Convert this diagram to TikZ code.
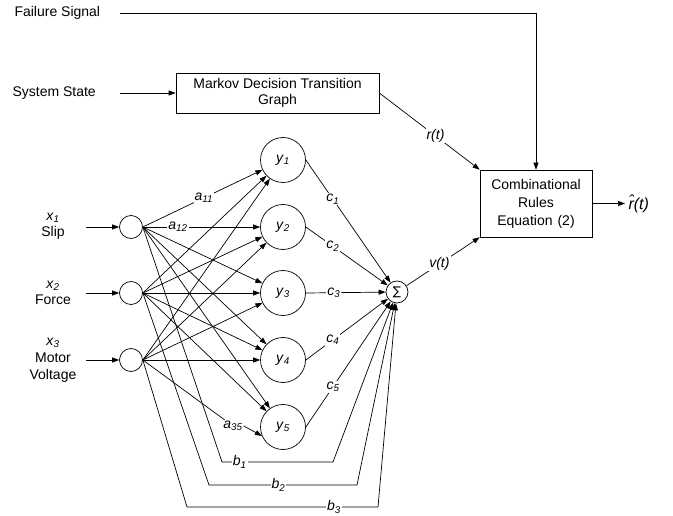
\documentclass[tikz,border=0pt]{standalone}
\usepackage{fontspec}
\setmainfont{Liberation Sans}
\newfontfamily\symfont{DejaVu Sans}
\usetikzlibrary{arrows.meta}
% italic variable with italic subscript
\newcommand\iv[2]{\textit{#1}\textsubscript{\textit{#2}}}

\begin{document}
\begin{tikzpicture}[x=1pt,y=-1pt,
  font=\fontsize{14}{16}\selectfont,
  wire/.style={line width=0.7pt},
  arr/.style={wire,-{Triangle[length=7pt,width=5pt]}},
  unit/.style={circle,draw,line width=0.7pt,minimum size=23pt,inner sep=0pt},
  hid/.style={circle,draw,line width=0.7pt,minimum size=45pt,inner sep=0pt},
  blk/.style={draw,line width=0.7pt,align=center,inner sep=0pt},
  lbl/.style={fill=white,inner sep=1pt,font=\fontsize{14}{16}\selectfont\itshape},
  txt/.style={align=center}]
\useasboundingbox (0,0) rectangle (673,516);

% top signals
\node[anchor=west] (fs) at (11,13) {Failure Signal};
\node[anchor=west] (ss) at (9,93) {System State};
\coordinate (fs0) at (120,13);
\coordinate (ss0) at (120,93);
\node[blk,minimum width=203pt,minimum height=40pt] (mk) at (277.5,93)
  {Markov Decision Transition\\Graph};
\node[blk,minimum width=112pt,minimum height=67pt,
      font=\fontsize{14}{18}\selectfont] (cr) at (536,203.5)
  {Combinational\\Rules\\Equation\hspace{5pt}(2)};
\coordinate (out) at (625,203.5);
\node[anchor=west,font=\fontsize{16}{18}\selectfont\itshape] (rh) at (out) {\^{r}(t)};

% inputs
\node[txt] (t1) at (53,226) {\iv{x}{1}\\Slip};
\node[txt] (t2) at (53,293) {\iv{x}{2}\\Force};
\node[txt,font=\fontsize{14}{17}\selectfont] (t3) at (53,360) {\iv{x}{3}\\Motor\\Voltage};
\coordinate (s1) at (86,227);
\coordinate (s2) at (86,293);
\coordinate (s3) at (86,360);
\node[unit] (i1) at (131,227) {};
\node[unit] (i2) at (131,293) {};
\node[unit] (i3) at (131,360) {};

% hidden units
\node[hid] (h1) at (283,160) {\iv{y}{1}};
\node[hid] (h2) at (283,227) {\iv{y}{2}};
\node[hid] (h3) at (283,293) {\iv{y}{3}};
\node[hid] (h4) at (283,360) {\iv{y}{4}};
\node[hid] (h5) at (283,427) {\iv{y}{5}};

% summing junction
\node[unit,minimum size=22pt] (sig) at (397,292) {\symfont\fontsize{12}{12}\selectfont ∑};

% top connections
\draw[arr] (fs0) -| (cr.north);
\draw[arr] (ss0) -- (mk.west);
\draw[arr] (mk.east) -- node[lbl,pos=0.56]{r(t)} (cr.north west);
\draw[arr] (sig) -- node[lbl,pos=0.45]{v(t)} (cr.south west);
\draw[arr] (cr.east) -- (out);

% input arrows
\foreach \k in {1,2,3} \draw[arr] (s\k) -- (i\k);

% input-to-hidden weights
\foreach \i/\j in {1/3,1/4,1/5,2/1,2/2,2/3,2/4,2/5,3/1,3/2,3/3,3/4}
  \draw[arr] (i\i.east) -- (h\j);
\draw[arr] (i1.east) -- node[lbl,pos=0.51]{\iv{a}{11}} (h1);
\draw[arr] (i1.east) -- node[lbl,pos=0.30]{\iv{a}{12}} (h2);
\node[lbl] (a35) at (233,426) {\iv{a}{35}};
\draw[wire] (i3.east) -- (a35);
\draw[arr] (a35.east) -- (h5.203);

% hidden-to-sum weights
\draw[arr] (h1.east) -- node[lbl,pos=0.32]{\iv{c}{1}} (sig);
\draw[arr] (h2.east) -- node[lbl,pos=0.33]{\iv{c}{2}} (sig);
\draw[arr] (h3.east) -- node[lbl,pos=0.35]{\iv{c}{3}} (sig);
\draw[arr] (h4.east) -- node[lbl,pos=0.33]{\iv{c}{4}} (sig);
\draw[arr] (h5.east) -- node[lbl,pos=0.32]{\iv{c}{5}} (sig);

% direct input-to-sum links
\draw[arr] (i1.east) -- (222,462) -- node[lbl,pos=0.16]{\iv{b}{1}} (333,462) -- (sig);
\draw[arr] (i2.east) -- (209,485) -- node[lbl,pos=0.47]{\iv{b}{2}} (357,485) -- (sig);
\draw[arr] (i3.east) -- (187,507) -- node[lbl,pos=0.77]{\iv{b}{3}} (378,507) -- (sig);
\end{tikzpicture}
\end{document}
